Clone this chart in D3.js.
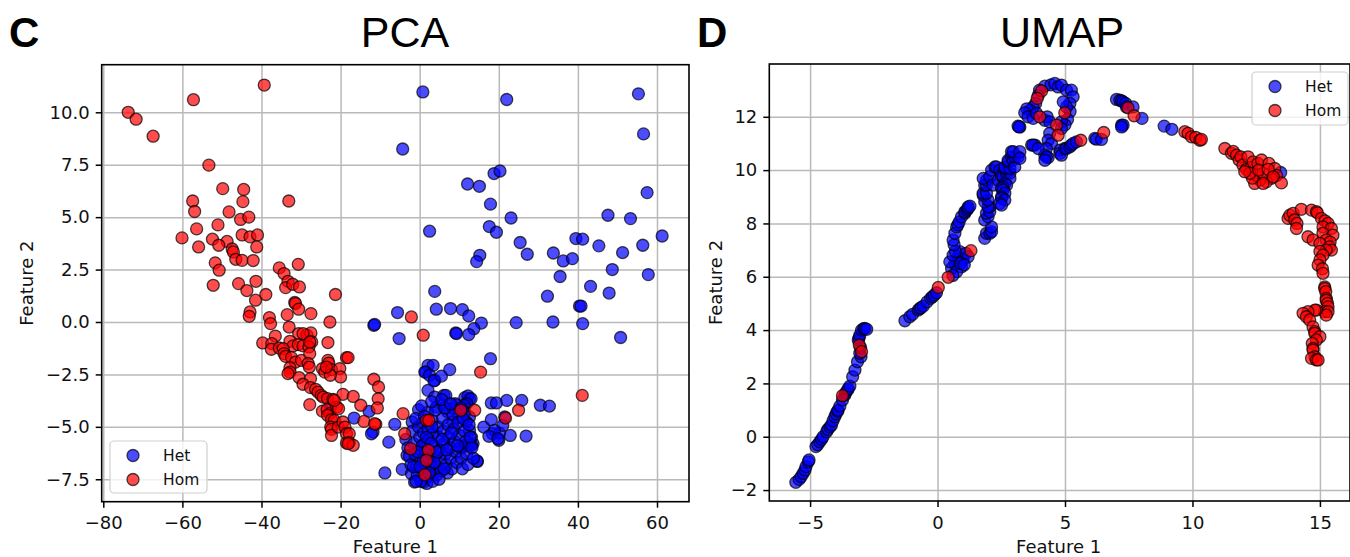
<!DOCTYPE html>
<html>
<head>
<meta charset="utf-8">
<script src="https://cdn.jsdelivr.net/npm/d3@7"></script>
<style>
  body { margin: 0; background: #fff; }
  svg { display: block; }
</style>
</head>
<body>
<svg id="fig" width="1350" height="557"></svg>
<script>
// ---- data ----
const seriesNames = ["Het", "Hom"];

const pcaHet = [
  [0.8,10.97],[22.0,10.61],[55.3,10.88],[56.6,8.97],[-4.3,8.25],[18.8,7.08],[20.3,7.20],[12.1,6.58],[15.1,6.47],[57.5,6.17],
  [17.9,5.62],[23.1,4.96],[47.6,5.09],[53.3,4.93],[17.6,4.55],[19.4,4.28],[2.5,4.33],[61.3,4.10],[25.4,3.79],[39.5,3.98],
  [41.2,3.95],[45.3,3.63],[56.4,3.66],[27.2,3.23],[33.8,3.29],[51.3,3.31],[15.2,3.18],[14.4,2.88],[36.3,2.91],[38.6,3.02],
  [48.7,2.50],[57.8,2.26],[35.5,2.17],[43.2,1.70],[47.9,1.38],[3.8,1.46],[32.3,1.23],[40.4,0.76],[40.8,0.76],[-5.6,0.45],
  [4.2,0.61],[7.8,0.64],[10.8,0.59],[12.4,0.29],[15.6,-0.05],[13.7,-0.32],[12.4,-0.60],[9.1,-0.52],[9.3,-0.55],[24.4,-0.03],
  [33.7,0.0],[41.2,-0.08],[50.8,-0.74],[-11.6,-0.16],[-11.4,-0.12],[-5.2,-0.79],[17.9,-1.75],[2.1,-2.07],[3.4,-2.07],[1.5,-2.39],
  [1.3,-2.39],[2.5,-2.54],[3.8,-2.78],[3.6,-2.81],[5.5,-2.58],[7.6,-2.27],[2.1,-3.26],[3.8,-3.58],[6.1,-3.50],[6.6,-3.50],
  [11.4,-3.61],[12.6,-3.66],[12.2,-3.53],[13.0,-3.66],[11.9,-3.89],[11.2,-3.97],[18.1,-3.86],[19.4,-3.86],[22.0,-3.74],[25.8,-3.74],
  [30.5,-3.97],[32.8,-4.01],[-0.3,-4.18],[-16.6,-4.58],[-12.8,-4.26],[-22.5,-4.02],[-6.3,-4.88],[-1.9,-4.77],[-11.8,-5.25],[-12.2,-5.33],
  [-7.8,-5.73],[-8.8,-7.20],[-4.4,-7.03],[-2.1,-7.24],[-1.3,-7.63],[1.0,-7.63],[-3.2,-6.36],[16.2,-5.01],[18.1,-4.66],[18.4,-5.33],
  [20.0,-5.64],[20.2,-5.30],[22.9,-5.41],[26.9,-5.44],[14.6,-6.65],[10.9,-5.96],[12.6,-5.88],[13.5,-5.80],[21.5,-4.53],[21.0,-4.93],
  [18.9,-5.17],[17.5,-5.45],[19.8,-5.56],[4.2,-4.06],[5.9,-3.97],[8.4,-4.13],[9.3,-3.97],[7.1,-4.29],[9.9,-4.53],[11.4,-4.29],
  [12.6,-4.53],[11.8,-4.77],[8.4,-4.77],[12.6,-5.17],[13.1,-5.49],[11.8,-5.88],[13.1,-5.88],[14.5,-6.63],
  // dense core
  [-3.5,-5.6],[-3.0,-6.0],[-2.6,-6.4],[-2.2,-6.8],[-1.8,-5.2],[-1.5,-5.8],[-1.2,-6.3],[-0.9,-6.9],[-0.6,-7.3],[-0.3,-5.0],
  [0.0,-5.5],[0.2,-6.1],[0.4,-6.6],[0.6,-7.0],[0.8,-4.8],[1.0,-5.3],[1.2,-5.8],[1.4,-6.4],[1.6,-6.9],[1.9,-7.4],
  [2.1,-5.1],[2.3,-5.6],[2.5,-6.2],[2.7,-6.7],[3.0,-7.1],[3.2,-4.7],[3.4,-5.3],[3.6,-5.9],[3.9,-6.4],[4.1,-6.9],
  [4.3,-7.3],[4.6,-5.0],[4.8,-5.5],[5.0,-6.1],[5.3,-6.6],[5.5,-7.1],[5.8,-4.6],[6.0,-5.2],[6.2,-5.8],[6.5,-6.3],
  [6.7,-6.8],[7.0,-7.2],[7.2,-4.9],[7.4,-5.5],[7.7,-6.0],[7.9,-6.5],[8.2,-7.0],[8.4,-4.4],[8.7,-5.1],[8.9,-5.7],
  [9.2,-6.2],[9.4,-6.7],[9.7,-4.8],[10.0,-5.4],[10.2,-6.0],[10.5,-6.5],[10.8,-7.0],[11.0,-4.6],[11.3,-5.2],[11.6,-5.7],
  [11.9,-6.3],[12.2,-6.8],[12.5,-4.9],[12.8,-5.5],[13.2,-6.0],[13.6,-6.5],[2.0,-4.3],[4.0,-4.2],[6.4,-4.1],[9.0,-3.9],
  [0.5,-4.0],[-1.0,-4.6],[3.0,-3.8],[5.6,-3.7],[7.8,-3.9],[10.5,-4.1],[1.8,-7.7],[3.3,-7.6],[0.3,-7.6],[-0.9,-7.6],
  [0.6,-5.9],[1.5,-6.2],[2.2,-6.5],[0.9,-6.6],[1.7,-5.5],[2.9,-5.8],[3.7,-6.7],[4.5,-6.2],[5.7,-5.6],[6.8,-6.1],
  [-0.5,-6.2],[-1.6,-6.9],[0.1,-6.9],[2.4,-7.2],[4.9,-7.5],[6.2,-7.0],[8.0,-5.3],[9.6,-5.9],[3.1,-5.0],[1.2,-4.5]
];

const pcaHom = [
  [-73.7,10.0],[-71.7,9.67],[-67.4,8.86],[-57.2,10.6],[-39.3,11.3],[-53.3,7.48],[-49.8,6.36],[-44.5,6.32],[-57.4,5.77],[-44.7,5.74],
  [-33.1,5.77],[-56.9,5.27],[-48.2,5.25],[-45.3,4.89],[-43.2,5.0],[-51.0,4.63],[-56.4,4.44],[-60.1,4.01],[-52.4,3.95],[-48.7,3.84],
  [-44.9,4.15],[-42.9,4.06],[-41.0,4.15],[-55.9,3.58],[-50.8,3.66],[-47.4,3.48],[-47.1,3.34],[-41.2,3.58],[-51.7,2.82],[-46.5,2.99],
  [-44.9,2.94],[-42.1,2.93],[-50.7,2.47],[-35.5,2.58],[-34.3,2.31],[-30.7,2.75],[-52.2,1.75],[-45.8,1.83],[-43.7,1.50],[-41.4,1.94],
  [-33.3,1.94],[-33.9,1.64],[-32.1,1.80],[-30.4,1.67],[-38.9,1.31],[-21.3,1.31],[-41.5,1.04],[-31.6,0.93],[-31.4,0.88],[-30.6,0.61],
  [-42.9,0.48],[-43.1,0.27],[-38.0,0.21],[-37.7,-0.08],[-33.5,0.35],[-27.5,0.40],[-22.7,0.0],[-33.0,-0.24],[-30.6,-0.55],[-28.5,-0.63],
  [-27.5,-0.52],[-27.3,-0.95],[-36.5,-0.67],[-39.7,-1.0],[-37.4,-1.03],[-37.5,-1.30],[-35.5,-1.24],[-32.8,-0.92],[-32.0,-1.14],[-30.7,-1.08],
  [-29.5,-1.14],[-28.0,-1.19],[-34.5,-1.27],[-34.3,-1.51],[-33.9,-1.64],[-32.4,-1.70],[-31.4,-1.91],[-29.9,-1.83],[-27.8,-1.51],[-28.2,-1.98],
  [-27.9,-2.15],[-23.2,-1.83],[-23.0,-1.96],[-18.5,-1.70],[-32.8,-2.18],[-32.8,-2.39],[-33.3,-2.46],[-30.5,-2.65],[-27.6,-2.70],[-24.6,-2.22],
  [-24.0,-2.39],[-22.3,-2.27],[-20.2,-2.22],[-20.0,-2.62],[-29.5,-2.97],[-27.6,-3.13],[-26.3,-3.21],[-25.7,-3.34],[-27.8,-3.94],[-24.9,-3.50],
  [-24.4,-3.58],[-23.3,-3.65],[-21.9,-3.69],[-19.4,-3.45],[-24.6,-4.25],[-23.4,-4.17],[-22.7,-4.37],[-23.3,-4.45],[-22.3,-4.66],[-21.6,-4.69],
  [-21.0,-4.06],[-20.5,-4.13],[-22.5,-5.01],[-22.3,-5.12],[-22.3,-5.41],[-20.6,-5.01],[-19.4,-4.77],[-18.9,-5.01],[-18.5,-5.33],[-18.5,-5.77],
  [-29.5,-0.55],[-27.8,-0.95],[-23.2,-0.98],[-18.1,-1.70],[-21.6,-3.74],[-22.6,-2.54],[-23.6,-2.15],
  [-11.6,-2.73],[-10.4,-3.10],[-10.5,-3.66],[-16.8,-3.55],[-14.9,-3.97],[-10.7,-4.10],[-14.1,-4.74],[-11.1,-4.88],[-11.4,-4.85],[-17.8,-5.33],
  [-17.8,-5.75],[-16.8,-5.88],[-18.1,-5.80],[-2.1,0.24],[0.9,-0.63],[15.4,-2.39],[-4.2,-4.37],[-3.8,-5.33],[-2.3,-6.04],[1.7,-4.69],
  [2.3,-4.69],[2.2,-6.12],[1.7,-6.60],[1.3,-7.28],[10.4,-4.21],[13.9,-4.21],[21.7,-4.58],[25.0,-4.21],[41.1,-3.50]
];

const umapHet = [
  // lower diagonal
  [-5.56,-1.71],[-5.43,-1.60],[-5.35,-1.5],[-5.27,-1.37],[-5.2,-1.25],[-5.16,-1.12],[-5.07,-0.94],[-5.04,-0.87],[-4.77,-0.37],[-4.7,-0.3],
  [-4.62,-0.19],[-4.55,-0.1],[-4.49,0.0],[-4.35,0.19],[-4.3,0.28],[-4.22,0.37],[-4.16,0.44],[-4.1,0.6],[-4.03,0.75],[-3.98,0.86],
  [-3.92,0.96],[-3.9,1.0],[-3.83,1.15],[-3.73,1.38],[-3.64,1.56],[-3.6,1.65],[-3.53,1.75],[-3.5,1.8],[-3.44,1.90],[-3.33,2.25],
  [-3.24,2.50],[-3.14,2.81],[-3.0,3.0],[-3.05,3.13],[-3.02,3.35],[-3.11,3.63],[-3.08,3.7],[-3.05,3.81],[-2.98,4.0],[-2.9,4.05],
  [-2.85,4.06],[-2.78,4.03],
  // second segment
  [-1.28,4.35],[-1.09,4.50],[-0.98,4.59],[-0.76,4.75],[-0.7,4.8],[-0.65,4.84],[-0.56,4.90],[-0.41,5.06],[-0.27,5.19],[-0.2,5.25],
  [-0.13,5.31],[-0.04,5.40],
  // lower cluster near x=1
  [0.55,6.31],[0.68,6.50],[0.75,6.63],[0.81,6.75],[0.48,6.56],[0.61,6.81],[0.87,6.94],[1.0,6.63],[1.11,6.88],[1.20,6.75],
  [0.94,6.37],[0.75,6.19],[0.6,6.05],[0.9,6.5],[1.05,6.45],[0.7,6.95],
  [0.65,7.2],[0.61,7.38],[0.68,7.63],[0.75,7.87],[0.8,7.95],[0.85,8.06],[0.94,8.25],[1.07,8.38],[1.07,8.44],[1.15,8.5],
  [1.20,8.56],[1.20,8.62],[1.27,8.65],
  // loop x=2..3
  [1.85,7.44],[1.92,7.63],[2.05,7.63],[2.12,7.69],[2.12,7.87],[1.85,8.13],[1.98,8.25],[1.92,8.38],[2.05,8.44],[2.05,8.62],
  [1.98,8.62],[1.85,8.81],[1.98,8.88],[1.79,9.06],[1.79,9.13],[1.92,9.13],[1.85,9.44],[1.92,9.44],[1.92,9.62],[1.79,9.69],
  [2.05,9.75],[2.12,10.0],[2.25,10.12],[2.31,10.12],[2.44,10.0],[2.18,9.44],[2.38,9.62],[2.51,9.81],[2.57,9.75],[2.71,9.88],
  [2.84,9.88],[2.84,9.69],[2.64,9.5],[2.71,9.44],[2.57,9.37],[2.51,9.31],[2.57,9.25],[2.64,9.13],[2.51,9.0],[2.51,8.94],
  [2.64,8.88],[2.44,8.75],[2.51,8.69],[2.64,10.06],[2.64,10.12],[2.84,10.06],[2.77,10.31],[2.77,10.37],[2.90,10.5],[2.96,10.38],
  [3.03,10.12],[3.03,10.5],[3.16,10.5],[2.90,10.69],[2.97,10.69],[3.23,10.69],[3.23,10.44],[3.23,11.62],[3.16,11.65],[3.20,11.62],
  // top ring
  [4.21,13.15],[4.45,13.2],[4.60,13.25],[4.73,13.12],[4.86,13.19],[5.06,13.0],[5.25,13.0],[5.32,12.75],[5.19,12.5],[5.2,12.2],
  [5.06,12.37],[4.93,12.56],[5.1,11.9],[5.0,11.7],[4.0,13.0],[3.95,12.8],[3.85,12.5],[3.75,12.37],[3.62,12.25],[3.5,12.3],
  [3.42,12.15],[3.55,12.0],[3.75,11.94],[3.88,12.13],[4.21,11.87],[4.30,12.0],[4.40,11.81],[4.86,11.81],[4.86,11.56],[4.40,11.38],
  [4.34,11.12],[4.47,11.0],[4.27,10.81],[4.21,10.56],[4.34,10.47],[4.27,10.5],[4.21,10.37],[3.82,10.94],[3.69,10.94],[3.75,10.94],
  [3.95,10.81],[4.80,10.75],[4.80,10.63],[4.86,10.56],[4.99,10.81],[5.06,10.81],[5.19,10.87],[5.25,10.94],[5.32,11.0],[5.45,11.06],
  // arc to the right
  [6.17,11.19],[6.23,11.16],[6.43,11.15],[7.02,12.65],[7.15,12.62],[7.22,12.6],[7.28,12.56],[7.38,12.5],[7.41,12.37],[7.67,12.37],
  [7.22,11.69],[7.28,11.69],[7.22,11.62],[8.02,11.94],[8.89,11.65],[9.19,11.53],[13.46,9.91]
];

const umapHom = [
  [-3.73,1.54],[-3.07,3.44],[-2.98,3.19],[0.03,5.60],[0.42,5.98],[1.31,6.98],[4.08,12.97],[3.91,12.69],[4.01,12.0],[4.99,12.15],
  [4.67,11.69],[4.73,11.31],[5.62,11.12],[6.52,11.41],[7.47,12.34],[7.71,12.04],[9.70,11.44],[9.83,11.38],[9.96,11.25],[10.13,11.23],
  [10.29,11.12],[10.35,11.15],
  // cluster x=11..13.5
  [11.27,10.81],[11.53,10.63],[11.6,10.7],[11.73,10.56],[11.83,10.38],[11.9,10.5],[11.98,10.19],[12.12,10.03],[12.18,10.5],[12.3,10.1],
  [12.38,10.31],[12.57,10.25],[12.71,10.38],[13.0,10.25],[13.23,10.06],[13.3,9.8],[13.49,9.52],[13.1,9.69],[12.9,9.56],[12.64,9.63],
  [12.44,9.50],[12.51,9.81],[12.35,9.7],[12.25,9.88],[12.05,9.94],[12.77,9.88],[12.6,10.0],[12.97,10.03],[13.17,9.75],[12.77,9.50],
  // right hook
  [13.75,8.19],[13.82,8.31],[13.95,8.38],[14.01,8.13],[14.1,8.0],[14.08,7.81],[14.27,8.53],[14.67,8.50],[14.86,8.44],[14.9,8.4],
  [15.06,8.19],[15.2,8.1],[15.32,8.0],[15.12,7.87],[15.45,7.81],[15.12,7.63],[15.51,7.56],[14.53,7.50],[14.73,7.38],[15.25,7.38],
  [15.4,7.3],[15.0,7.25],[15.38,7.12],[15.45,7.0],[15.25,7.0],[15.0,6.95],[15.12,6.81],[15.0,6.63],[14.93,6.44],[15.1,6.3],
  [15.12,6.13],
  // bottom column
  [15.19,5.62],[15.19,5.56],[15.23,5.44],[15.25,5.19],[15.25,5.12],[15.3,5.0],[15.32,4.87],[15.19,4.69],[15.32,4.69],[15.25,4.56],
  [14.86,4.75],[14.8,4.75],[14.53,4.69],[14.34,4.63],[14.47,4.50],[14.6,4.38],[14.73,4.12],[14.8,3.94],[14.8,3.88],[15.0,3.75],
  [14.86,3.63],[14.7,3.5],[14.73,3.31],[14.73,3.25],[14.8,3.0],[14.67,2.94],[14.86,2.88],[14.93,2.88]
];

// ---- panels ----
const panels = [
  {
    letter: "C", title: "PCA", het: pcaHet, hom: pcaHom,
    box: { left: 101.7, right: 689, top: 64.7, bottom: 501.7 },
    xlim: [-80.4, 68.09], ylim: [-8.57, 12.27],
    xTicks: [-80, -60, -40, -20, 0, 20, 40, 60],
    yTicks: [-7.5, -5, -2.5, 0, 2.5, 5, 7.5, 10],
    yFmt: ".1f",
    letterX: 9, titleX: 405, ylabelX: 33,
    legend: { x: 110, y: 441, w: 97, h: 52 }
  },
  {
    letter: "D", title: "UMAP", het: umapHet, hom: umapHom,
    box: { left: 769.3, right: 1350, top: 64, bottom: 501 },
    xlim: [-6.6, 16.18], ylim: [-2.41, 13.98],
    xTicks: [-5, 0, 5, 10, 15],
    yTicks: [-2, 0, 2, 4, 6, 8, 10, 12],
    yFmt: "d",
    letterX: 697, titleX: 1062, ylabelX: 722,
    legend: { x: 1252, y: 72, w: 96, h: 53 }
  }
];

const colors = { Het: "rgba(0,0,255,0.7)", Hom: "rgba(255,0,0,0.7)" };
const edge = "rgba(0,0,0,0.7)";
const tickFont = "'DejaVu Sans', sans-serif";

const svg = d3.select("#fig");

const draw = (p) => {
  const b = p.box;
  const x = d3.scaleLinear().domain(p.xlim).range([b.left, b.right]);
  const y = d3.scaleLinear().domain(p.ylim).range([b.bottom, b.top]);
  const g = svg.append("g");

  // grid
  g.append("g").attr("transform", `translate(0,${b.bottom})`)
    .call(d3.axisBottom(x).tickValues(p.xTicks).tickSize(-(b.bottom - b.top)).tickFormat(""))
    .call(s => s.select(".domain").remove())
    .selectAll("line").attr("stroke", "#b9b9b9").attr("stroke-width", 1.5);
  g.append("g").attr("transform", `translate(${b.left},0)`)
    .call(d3.axisLeft(y).tickValues(p.yTicks).tickSize(-(b.right - b.left)).tickFormat(""))
    .call(s => s.select(".domain").remove())
    .selectAll("line").attr("stroke", "#b9b9b9").attr("stroke-width", 1.5);

  // points, Het first then Hom on top
  const clip = "clip-" + p.letter;
  svg.append("clipPath").attr("id", clip).append("rect")
    .attr("x", b.left).attr("y", b.top).attr("width", b.right - b.left).attr("height", b.bottom - b.top);
  const pts = g.append("g").attr("clip-path", `url(#${clip})`);
  [["Het", p.het], ["Hom", p.hom]].forEach(([name, rows]) => {
    pts.append("g").selectAll("circle").data(rows).join("circle")
      .attr("cx", d => x(d[0]))
      .attr("cy", d => y(d[1]))
      .attr("r", 6)
      .attr("fill", colors[name])
      .attr("stroke", edge)
      .attr("stroke-width", 1.3);
  });

  // axes
  const xa = g.append("g").attr("transform", `translate(0,${b.bottom})`)
    .call(d3.axisBottom(x).tickValues(p.xTicks).tickSize(6).tickPadding(9).tickFormat(d3.format("d")));
  const ya = g.append("g").attr("transform", `translate(${b.left},0)`)
    .call(d3.axisLeft(y).tickValues(p.yTicks).tickSize(6).tickPadding(6).tickFormat(d3.format(p.yFmt)));
  [xa, ya].forEach(a => {
    a.select(".domain").remove();
    a.selectAll("line").attr("stroke", "#000").attr("stroke-width", 1.5);
    a.selectAll("text").attr("font-family", tickFont).attr("font-size", 18).attr("fill", "#111");
  });

  // frame
  g.append("rect")
    .attr("x", b.left).attr("y", b.top)
    .attr("width", b.right - b.left).attr("height", b.bottom - b.top)
    .attr("fill", "none").attr("stroke", "#000").attr("stroke-width", 1.6);

  // labels
  g.append("text").text("Feature 1")
    .attr("x", (b.left + b.right) / 2 + (p.letter === "C" ? 0 : -1)).attr("y", 553)
    .attr("text-anchor", "middle").attr("font-family", tickFont).attr("font-size", 18).attr("fill", "#111");
  g.append("text").text("Feature 2")
    .attr("transform", `translate(${p.ylabelX},${(b.top + b.bottom) / 2}) rotate(-90)`)
    .attr("text-anchor", "middle").attr("font-family", tickFont).attr("font-size", 18).attr("fill", "#111");
  g.append("text").text(p.title)
    .attr("x", p.titleX).attr("y", 47)
    .attr("text-anchor", "middle").attr("font-family", "'Liberation Sans', Arial, sans-serif")
    .attr("font-size", 43).attr("fill", "#000");
  g.append("text").text(p.letter)
    .attr("x", p.letterX).attr("y", 47)
    .attr("font-family", "'Liberation Sans', Arial, sans-serif").attr("font-weight", "bold")
    .attr("font-size", 42).attr("fill", "#000");

  // legend
  const L = p.legend;
  const lg = g.append("g");
  lg.append("rect").attr("x", L.x).attr("y", L.y).attr("width", L.w).attr("height", L.h)
    .attr("rx", 4).attr("fill", "rgba(255,255,255,0.8)").attr("stroke", "#d0d0d0").attr("stroke-width", 1.2);
  seriesNames.forEach((name, i) => {
    const cy = L.y + 14.5 + i * 24;
    lg.append("circle").attr("cx", L.x + 23).attr("cy", cy).attr("r", 6)
      .attr("fill", colors[name]).attr("stroke", edge).attr("stroke-width", 1.3);
    lg.append("text").text(name).attr("x", L.x + 53).attr("y", cy + 5.5)
      .attr("font-family", tickFont).attr("font-size", 15.5).attr("fill", "#111");
  });
};

panels.forEach(draw);
</script>
</body>
</html>
